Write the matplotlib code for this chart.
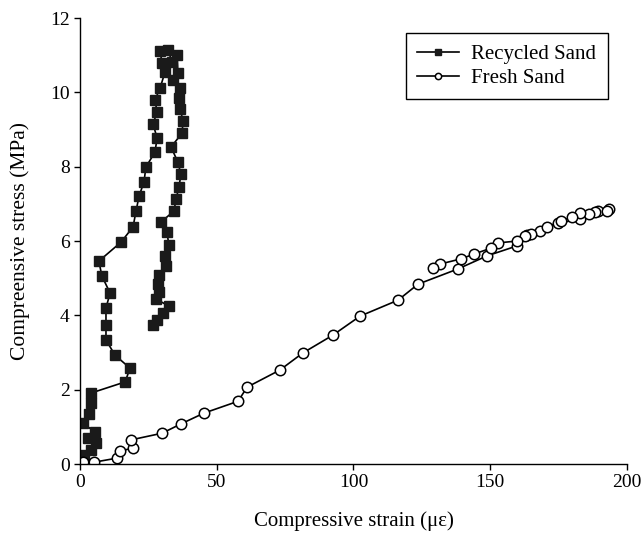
import matplotlib
matplotlib.use("Agg")
import matplotlib.pyplot as plt

plt.rcParams['font.family'] = ['Liberation Serif', 'DejaVu Serif']

# recycled sand: loading (left branch) then unloading (right branch)
recycled_strain = [1.5, 4.0, 5.9, 2.9, 5.5, 1.1, 3.3, 4.0, 4.0, 16.5, 18.3, 12.8,
                   9.5, 9.5, 9.5, 11.0, 8.0, 6.9, 15.0, 19.4, 20.5, 21.6, 23.4,
                   24.1, 27.4, 28.2, 26.7, 28.2, 27.4, 29.3, 31.1, 30.0, 29.3,
                   32.2, 33.6, 35.5, 35.8, 34.0, 36.6, 36.2, 36.6, 37.7, 37.3,
                   33.3, 35.8, 36.9, 36.2, 35.1, 34.4, 29.6, 31.8, 32.5, 31.1,
                   31.4, 28.9, 28.5, 28.9, 27.8, 32.5, 30.3, 28.2, 26.7]
recycled_stress = [0.24, 0.38, 0.56, 0.70, 0.86, 1.10, 1.35, 1.64, 1.91, 2.21, 2.58, 2.93,
                   3.34, 3.74, 4.20, 4.60, 5.06, 5.46, 5.97, 6.38, 6.81, 7.21, 7.59,
                   7.99, 8.39, 8.77, 9.15, 9.47, 9.79, 10.12, 10.55, 10.78, 11.11,
                   11.14, 10.82, 11.00, 10.52, 10.33, 10.12, 9.85, 9.55, 9.23, 8.90,
                   8.53, 8.12, 7.80, 7.45, 7.13, 6.81, 6.51, 6.24, 5.89, 5.60,
                   5.33, 5.08, 4.84, 4.63, 4.44, 4.25, 4.06, 3.87, 3.74]

# fresh sand: loading up to peak, then unloading back
fresh_strain = [1.1, 5.1, 13.5, 14.6, 19.4, 18.6, 30.0, 36.9, 45.3, 57.8, 61.1,
                73.1, 81.5, 92.5, 102.4, 116.3, 123.6, 138.2, 148.8, 159.8,
                163.4, 168.2, 174.8, 182.8, 189.4, 193.4,
                192.7, 188.3, 186.1, 182.8, 179.9, 175.9, 170.8, 164.9, 162.7,
                159.8, 152.8, 150.3, 144.1, 139.3, 131.6, 129.1]
fresh_stress = [0.05, 0.05, 0.16, 0.35, 0.43, 0.65, 0.83, 1.08, 1.37, 1.69, 2.07,
                2.53, 2.99, 3.47, 3.98, 4.41, 4.84, 5.25, 5.60, 5.87,
                6.16, 6.27, 6.48, 6.59, 6.81, 6.86,
                6.81, 6.78, 6.73, 6.75, 6.65, 6.54, 6.38, 6.19, 6.13,
                6.00, 5.95, 5.81, 5.65, 5.52, 5.38, 5.27]

x_ticks = [0, 50, 100, 150, 200]
y_ticks = [0, 2, 4, 6, 8, 10, 12]

fig = plt.figure(figsize=(6.42, 5.39), dpi=100)
ax = fig.add_axes([0.1246, 0.139, 0.852, 0.8276])

ax.plot(recycled_strain, recycled_stress, color='black', lw=1.2,
        marker='s', ms=7.5, mfc='#1a1a1a', mec='#1a1a1a', label='Recycled Sand')
ax.plot(fresh_strain, fresh_stress, color='black', lw=1.2,
        marker='o', ms=7.5, mfc='white', mec='black', mew=1.1, label='Fresh Sand')

ax.set_xlim(0, 200)
ax.set_ylim(0, 12)
ax.set_xticks(x_ticks)
ax.set_yticks(y_ticks)
ax.tick_params(direction='out', length=4, width=1, labelsize=14)

for s in ['top', 'right']:
    ax.spines[s].set_visible(False)
for s in ['left', 'bottom']:
    ax.spines[s].set_linewidth(1)

ax.set_xlabel('Compressive strain (\u03bc\u03b5)', fontsize=15, labelpad=14)
ax.set_ylabel('Compreensive stress (MPa)', fontsize=15.5, labelpad=14)

leg = ax.legend(loc='upper right', bbox_to_anchor=(0.965, 0.966), fontsize=15,
                frameon=True, fancybox=False, edgecolor='black', framealpha=1,
                borderaxespad=0, markerscale=0.6, handlelength=2.0,
                borderpad=0.55, labelspacing=0.2, handletextpad=0.6)
leg._legend_box.sep = 5
leg.get_frame().set_linewidth(1)

fig.savefig('out.png', dpi=100)
